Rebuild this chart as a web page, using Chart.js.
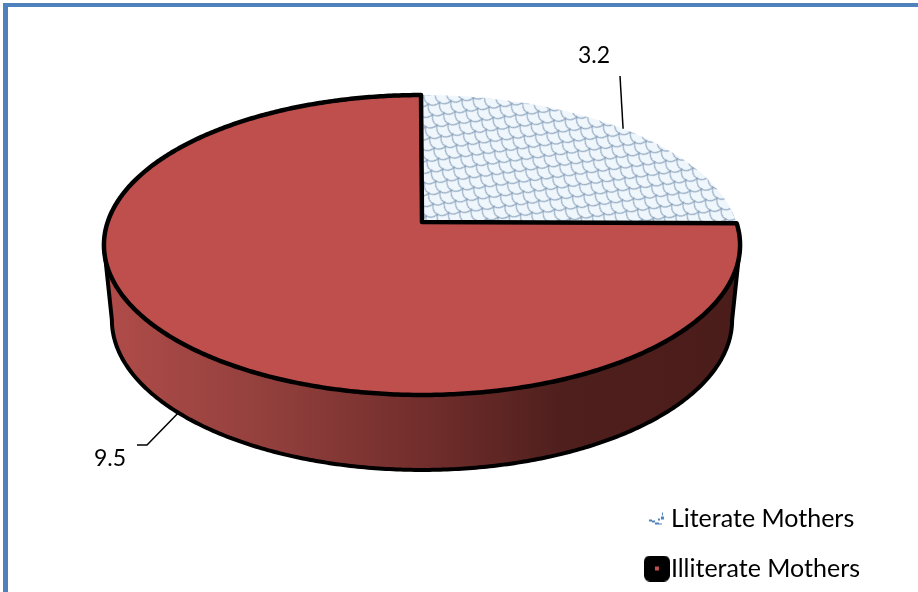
<!DOCTYPE html>
<html>
<head>
<meta charset="utf-8">
<title>Literate and Illiterate Mothers</title>
<script src="https://cdn.jsdelivr.net/npm/chart.js@4/dist/chart.umd.min.js"></script>
<style>
  html, body { margin: 0; padding: 0; background: #fff; }
  canvas { display: block; }
</style>
</head>
<body>
<canvas id="chart" width="918" height="592"></canvas>
<script>
const categories = ['Literate Mothers', 'Illiterate Mothers'];
const seriesValues = [3.2, 9.5];

const fontFamily = 'Lato, Carlito, sans-serif';

// perspective of the tilted disc
const apexX = 422, apexY = 222;
const radiusX = 314.3, radiusY = 112.4, tilt = -0.1533;
const depth = 75;
const wallShrink = 0.975;

// map an angle of the pie to the screen
function project(angle, dy) {
  const u = Math.cos(angle), v = Math.sin(angle);
  const w = 1 + tilt * v;
  const d = dy || 0;
  const shrink = 1 - (1 - wallShrink) * d / depth;
  return { x: apexX + shrink * radiusX * u / w, y: (apexY + radiusY * v) / w + d };
}

function traceRim(ctx, from, to, dy) {
  const steps = Math.max(2, Math.ceil(Math.abs(to - from) / 0.01));
  for (let i = 0; i <= steps; i++) {
    const p = project(from + (to - from) * i / steps, dy);
    ctx.lineTo(p.x, p.y);
  }
}

function traceSlice(ctx, arc, dy) {
  ctx.beginPath();
  ctx.moveTo(apexX, apexY + (dy || 0));
  traceRim(ctx, arc.startAngle, arc.endAngle, dy);
  ctx.closePath();
}

function makeScales(ctx) {
  const tile = document.createElement('canvas');
  tile.width = 18;
  tile.height = 14;
  const t = tile.getContext('2d');
  t.fillStyle = '#eff6fc';
  t.fillRect(0, 0, 18, 14);
  t.strokeStyle = '#8ea5bd';
  t.lineWidth = 1.1;
  [[0, 0], [18, 0], [9, 7], [0, 14], [18, 14], [9, -7]].forEach(([x, y]) => {
    t.beginPath();
    t.arc(x, y, 9, 0.1, Math.PI - 0.1);
    t.stroke();
  });
  const pattern = ctx.createPattern(tile, 'repeat');
  pattern.setTransform(new DOMMatrix().rotate(30));
  return pattern;
}

function legendMarkers() {
  const first = document.createElement('canvas');
  first.width = 26; first.height = 26;
  const a = first.getContext('2d');
  a.fillStyle = '#4f81bd';
  [[5, 14, 3, 2], [8, 15, 3, 2], [11, 17, 4, 2], [14, 13, 2, 2], [17, 11, 3, 3], [18, 7, 1, 3], [15, 18, 3, 1]]
    .forEach(r => a.fillRect(r[0], r[1], r[2], r[3]));
  const second = document.createElement('canvas');
  second.width = 26; second.height = 26;
  const b = second.getContext('2d');
  b.fillStyle = '#000';
  b.beginPath();
  b.roundRect(0, 0, 26, 26, 6);
  b.fill();
  b.fillStyle = '#c0504d';
  b.fillRect(11, 11, 4, 4);
  return [first, second];
}

const frame = {
  id: 'frame',
  beforeDraw(chart) {
    const ctx = chart.ctx;
    ctx.save();
    ctx.fillStyle = '#fff';
    ctx.fillRect(0, 0, chart.width, chart.height);
    ctx.fillStyle = '#4f81bd';
    ctx.fillRect(3, 3, chart.width - 3, 4);
    ctx.fillRect(3, 3, 5, chart.height - 3);
    ctx.restore();
  }
};

const tiltedPie = {
  id: 'tiltedPie',
  beforeDatasetDraw(chart, args) {
    const ctx = chart.ctx;
    const arcs = args.meta.data;
    const big = arcs[1];
    const side = Math.asin(-tilt);

    ctx.save();
    // side wall of the disc
    const wall = ctx.createLinearGradient(apexX - 318, 0, apexX + 318, 0);
    wall.addColorStop(0, '#b04c49');
    wall.addColorStop(0.25, '#93403d');
    wall.addColorStop(0.5, '#722e2c');
    wall.addColorStop(0.72, '#4f1f1d');
    wall.addColorStop(1, '#4a1c1a');
    ctx.fillStyle = wall;
    for (let d = depth; d > 0; d -= 2) {
      traceSlice(ctx, big, d);
      ctx.fill();
    }
    ctx.strokeStyle = '#000';
    ctx.lineWidth = 4;
    ctx.lineJoin = 'round';
    ctx.beginPath();
    const start = project(side);
    ctx.moveTo(start.x, start.y);
    traceRim(ctx, side, Math.PI - side, depth);
    const end = project(Math.PI - side);
    ctx.lineTo(end.x, end.y);
    ctx.stroke();

    // top faces, the big slice on top of the hatched one
    arcs.forEach((arc, i) => {
      traceSlice(ctx, arc);
      ctx.fillStyle = arc.options.backgroundColor;
      ctx.fill();
      if (i === 1) {
        ctx.lineWidth = 4.5;
        ctx.stroke();
      }
    });
    ctx.restore();
    return false;
  }
};

const leaders = [
  { line: [[620, 76]], text: [594, 56] },
  { line: [[147, 445], [137, 445]], text: [110, 459] }
];

const valueLabels = {
  id: 'valueLabels',
  afterDatasetsDraw(chart) {
    const ctx = chart.ctx;
    const arcs = chart.getDatasetMeta(0).data;
    ctx.save();
    ctx.strokeStyle = '#000';
    ctx.lineWidth = 1.5;
    ctx.fillStyle = '#000';
    ctx.font = '23px ' + fontFamily;
    ctx.textAlign = 'center';
    ctx.textBaseline = 'middle';
    arcs.forEach((arc, i) => {
      const mid = (arc.startAngle + arc.endAngle) / 2;
      const anchor = project(mid, Math.sin(mid) > 0 ? depth : 0);
      ctx.beginPath();
      ctx.moveTo(anchor.x, anchor.y);
      leaders[i].line.forEach(p => ctx.lineTo(p[0], p[1]));
      ctx.stroke();
      ctx.fillText(String(seriesValues[i]), leaders[i].text[0], leaders[i].text[1]);
    });
    ctx.restore();
  }
};

const canvas = document.getElementById('chart');
const ctx = canvas.getContext('2d');
const markers = legendMarkers();

new Chart(ctx, {
  type: 'pie',
  data: {
    labels: categories,
    datasets: [{
      data: seriesValues,
      backgroundColor: [makeScales(ctx), '#be4f4c'],
      borderWidth: 0,
      rotation: -0.2
    }]
  },
  options: {
    responsive: false,
    devicePixelRatio: 1,
    animation: false,
    layout: { padding: { right: 48, bottom: -14 } },
    plugins: {
      tooltip: { enabled: false },
      legend: {
        position: 'right',
        align: 'end',
        labels: {
          font: { family: fontFamily, size: 25 },
          color: '#000',
          usePointStyle: true,
          pointStyleWidth: 3,
          padding: 25,
          generateLabels: () => categories.map((text, i) => ({
            text, pointStyle: markers[i], fontColor: '#000', lineWidth: 0, datasetIndex: 0, index: i
          }))
        }
      }
    }
  },
  plugins: [frame, tiltedPie, valueLabels]
});
</script>
</body>
</html>
